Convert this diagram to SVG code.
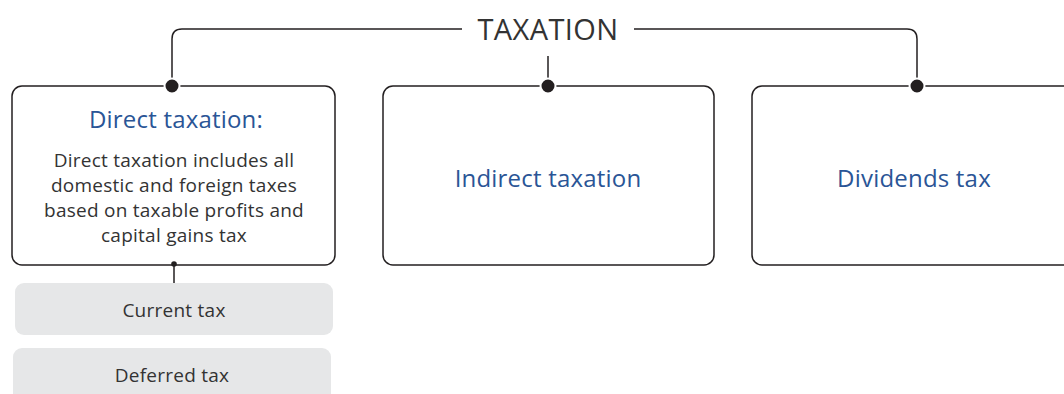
<svg xmlns="http://www.w3.org/2000/svg" width="1064" height="394" viewBox="0 0 1064 394">
<style>
.box{fill:#fff;stroke:#231f20;stroke-width:1.5}
.sub{fill:#e6e7e8;stroke:none}
.ln{fill:none;stroke:#231f20;stroke-width:1.5}
.dot{fill:#231f20;stroke:#fff;stroke-width:2}
.t{font-family:"Open Sans","Liberation Sans",Arial,sans-serif;text-anchor:middle;font-weight:400}
.h{fill:#2a5596;font-size:24px;letter-spacing:0.2px}
.b{fill:#333;font-size:19px;letter-spacing:0.25px}
.title{fill:#333;font-size:29px;letter-spacing:0.4px}
</style>
<rect width="1064" height="394" fill="#fff"/>
<g id="title"><text class="t title" x="548" y="40">TAXATION</text></g>
<g id="connectors">
<path class="ln" d="M172,86 V39 Q172,29 182,29 H462"/>
<path class="ln" d="M634,29 H907 Q917,29 917,39 V86"/>
<path class="ln" d="M548,56 V86"/>
<path class="ln" d="M174,264 V283"/>
</g>
<g id="direct">
<rect class="box" x="12" y="86" width="323" height="179" rx="10"/>
<text class="t h" x="176" y="128">Direct taxation:</text>
<text class="t b" x="174" y="167">Direct taxation includes all</text>
<text class="t b" x="174" y="192">domestic and foreign taxes</text>
<text class="t b" x="174" y="217">based on taxable profits and</text>
<text class="t b" x="174" y="242">capital gains tax</text>
</g>
<g id="indirect">
<rect class="box" x="383" y="86" width="331" height="179" rx="10"/>
<text class="t h" x="548" y="187">Indirect taxation</text>
</g>
<g id="dividends">
<rect class="box" x="752" y="86" width="340" height="179" rx="10"/>
<text class="t h" x="914" y="187">Dividends tax</text>
</g>
<g id="current">
<rect class="sub" x="15" y="283" width="318" height="52" rx="9"/>
<text class="t b" x="174" y="317">Current tax</text>
</g>
<g id="deferred">
<rect class="sub" x="13" y="348" width="318" height="60" rx="9"/>
<text class="t b" x="172" y="382">Deferred tax</text>
</g>
<g id="dots">
<circle class="dot" cx="172" cy="86" r="7.5"/>
<circle class="dot" cx="548" cy="86" r="7.5"/>
<circle class="dot" cx="917" cy="86" r="7.5"/>
<circle cx="174" cy="264" r="2.8" fill="#231f20"/>
</g>
</svg>
